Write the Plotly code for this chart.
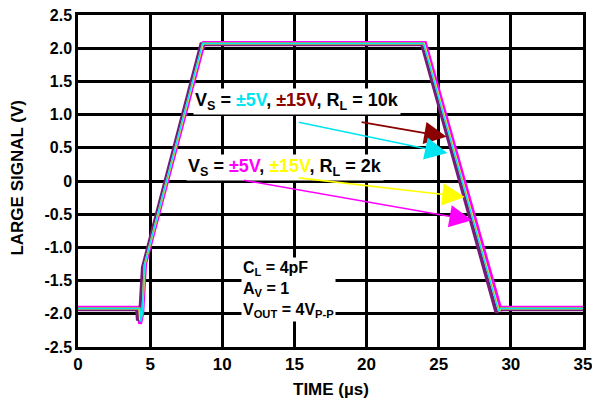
import plotly.graph_objects as go

# Time (µs) and output (V) for each trace
t_15v_10k = [0, 4.1, 4.15, 4.3, 4.5, 8.55, 23.85, 29.0, 29.15, 35]
v_15v_10k = [-1.93, -1.93, -2.1, -2.05, -1.3, 2.06, 2.06, -1.98, -1.93, -1.93]

t_5v_2k = [0, 4.2, 4.3, 4.45, 4.65, 8.72, 24.05, 29.3, 29.4, 35]
v_5v_2k = [-1.91, -1.91, -2.15, -2.0, -1.25, 2.08, 2.08, -1.95, -1.91, -1.91]

t_5v_10k = [0, 4.3, 4.35, 4.45, 4.6, 8.63, 23.95, 29.15, 29.25, 35]
v_5v_10k = [-1.92, -1.92, -2.12, -2.0, -1.27, 2.07, 2.07, -1.96, -1.92, -1.92]

t_15v_2k = [0, 4.25, 4.3, 4.45, 4.62, 8.66, 23.98, 29.18, 29.28, 35]
v_15v_2k = [-1.92, -1.92, -2.1, -2.0, -1.26, 2.07, 2.07, -1.96, -1.92, -1.92]

x_ticks = [0, 5, 10, 15, 20, 25, 30, 35]
x_labels = ["0", "5", "10", "15", "20", "25", "30", "35"]
y_ticks = [2.5, 2.0, 1.5, 1.0, 0.5, 0, -0.5, -1.0, -1.5, -2.0, -2.5]
y_labels = ["2.5", "2.0", "1.5", "1.0", "0.5", "0", "-0.5", "-1.0", "-1.5", "-2.0", "-2.5"]

PURPLE = "#7A1A7A"
MAGENTA = "#FF00FF"
CYAN = "#00E5F0"
YELLOW = "#FFFF00"
DARKRED = "#8B0000"

FAM = "Liberation Sans, Arial, sans-serif"

fig = go.Figure()
fig.add_trace(go.Scatter(x=t_5v_2k, y=v_5v_2k, mode="lines",
                         line=dict(color=MAGENTA, width=4)))
fig.add_trace(go.Scatter(x=t_15v_10k, y=v_15v_10k, mode="lines",
                         line=dict(color=PURPLE, width=4)))
fig.add_trace(go.Scatter(x=t_15v_2k, y=v_15v_2k, mode="lines",
                         line=dict(color=YELLOW, width=2)))
fig.add_trace(go.Scatter(x=t_5v_10k, y=v_5v_10k, mode="lines",
                         line=dict(color=CYAN, width=1.5)))

font_main = dict(family=FAM, size=18, color="black")

annotations = [
    dict(x=15.2, y=1.19, xref="x", yref="y", showarrow=False, bgcolor="white",
         text="<b>V<sub>S</sub> = <span style='color:#00E5F0'>±5V</span>, "
              "<span style='color:#8B0000'>±15V</span>, R<sub>L</sub> = 10k</b>",
         font=font_main),
    dict(x=14.35, y=0.2, xref="x", yref="y", showarrow=False, bgcolor="white",
         text="<b>V<sub>S</sub> = <span style='color:#FF00FF'>±5V</span>, "
              "<span style='color:#FFFF00'>±15V</span>, R<sub>L</sub> = 2k</b>",
         font=font_main),
    dict(x=11.3, y=-1.64, xref="x", yref="y", showarrow=False, bgcolor="white",
         xanchor="left", align="left",
         text="<b>C<sub>L</sub> = 4pF<br>A<sub>V</sub> = 1<br>V<sub>OUT</sub> = 4V<sub>P-P</sub></b>",
         font=dict(family=FAM, size=16, color="black")),
    dict(x=-0.119, y=0.51, xref="paper", yref="paper", showarrow=False,
         xanchor="center", yanchor="middle",
         text="<b>LARGE SIGNAL (V)</b>", textangle=-90,
         font=dict(family=FAM, size=17, color="black")),
    dict(x=0.5, y=-0.127, xref="paper", yref="paper", showarrow=False,
         xanchor="center", yanchor="middle",
         text="<b>TIME (µs)</b>",
         font=dict(family=FAM, size=17, color="black")),
]

arrows = [
    (19.55, 0.89, 25.55, 0.665, DARKRED),
    (15.2, 0.89, 25.6, 0.42, CYAN),
    (15.2, 0.05, 26.8, -0.24, YELLOW),
    (11.4, 0.015, 27.3, -0.59, MAGENTA),
]
for ax_, ay_, x_, y_, c in arrows:
    annotations.append(dict(x=x_, y=y_, ax=ax_, ay=ay_, xref="x", yref="y",
                            axref="x", ayref="y", text="", showarrow=True,
                            arrowhead=2, arrowsize=2.8, arrowwidth=1.6,
                            arrowcolor=c))

# page body has an 8px default margin: compensate so the plot area sits where the reference has it
fig.update_layout(
    width=600, height=400,
    margin=dict(l=70, r=25, t=7, b=61, autoexpand=False),
    plot_bgcolor="white", paper_bgcolor="white",
    showlegend=False,
    annotations=annotations,
    font=dict(family=FAM, size=15, color="black"),
)
fig.update_xaxes(range=[0, 35], tickvals=x_ticks, ticktext=["<b>%s</b>" % s for s in x_labels],
                 showgrid=True, gridcolor="black", gridwidth=2.5,
                 showline=True, linecolor="black", linewidth=2.5, mirror=True,
                 zeroline=False, ticks="", tickfont=dict(size=17), automargin=False,
                 ticklabeloverflow="allow")
fig.update_yaxes(range=[-2.5, 2.5], tickvals=y_ticks, ticktext=["<b>%s</b>" % s for s in y_labels],
                 showgrid=True, gridcolor="black", gridwidth=2.5,
                 showline=True, linecolor="black", linewidth=2.5, mirror=True,
                 zeroline=False, ticks="", tickfont=dict(size=16), automargin=False,
                 ticklabeloverflow="allow")

fig.write_html("out.html")
